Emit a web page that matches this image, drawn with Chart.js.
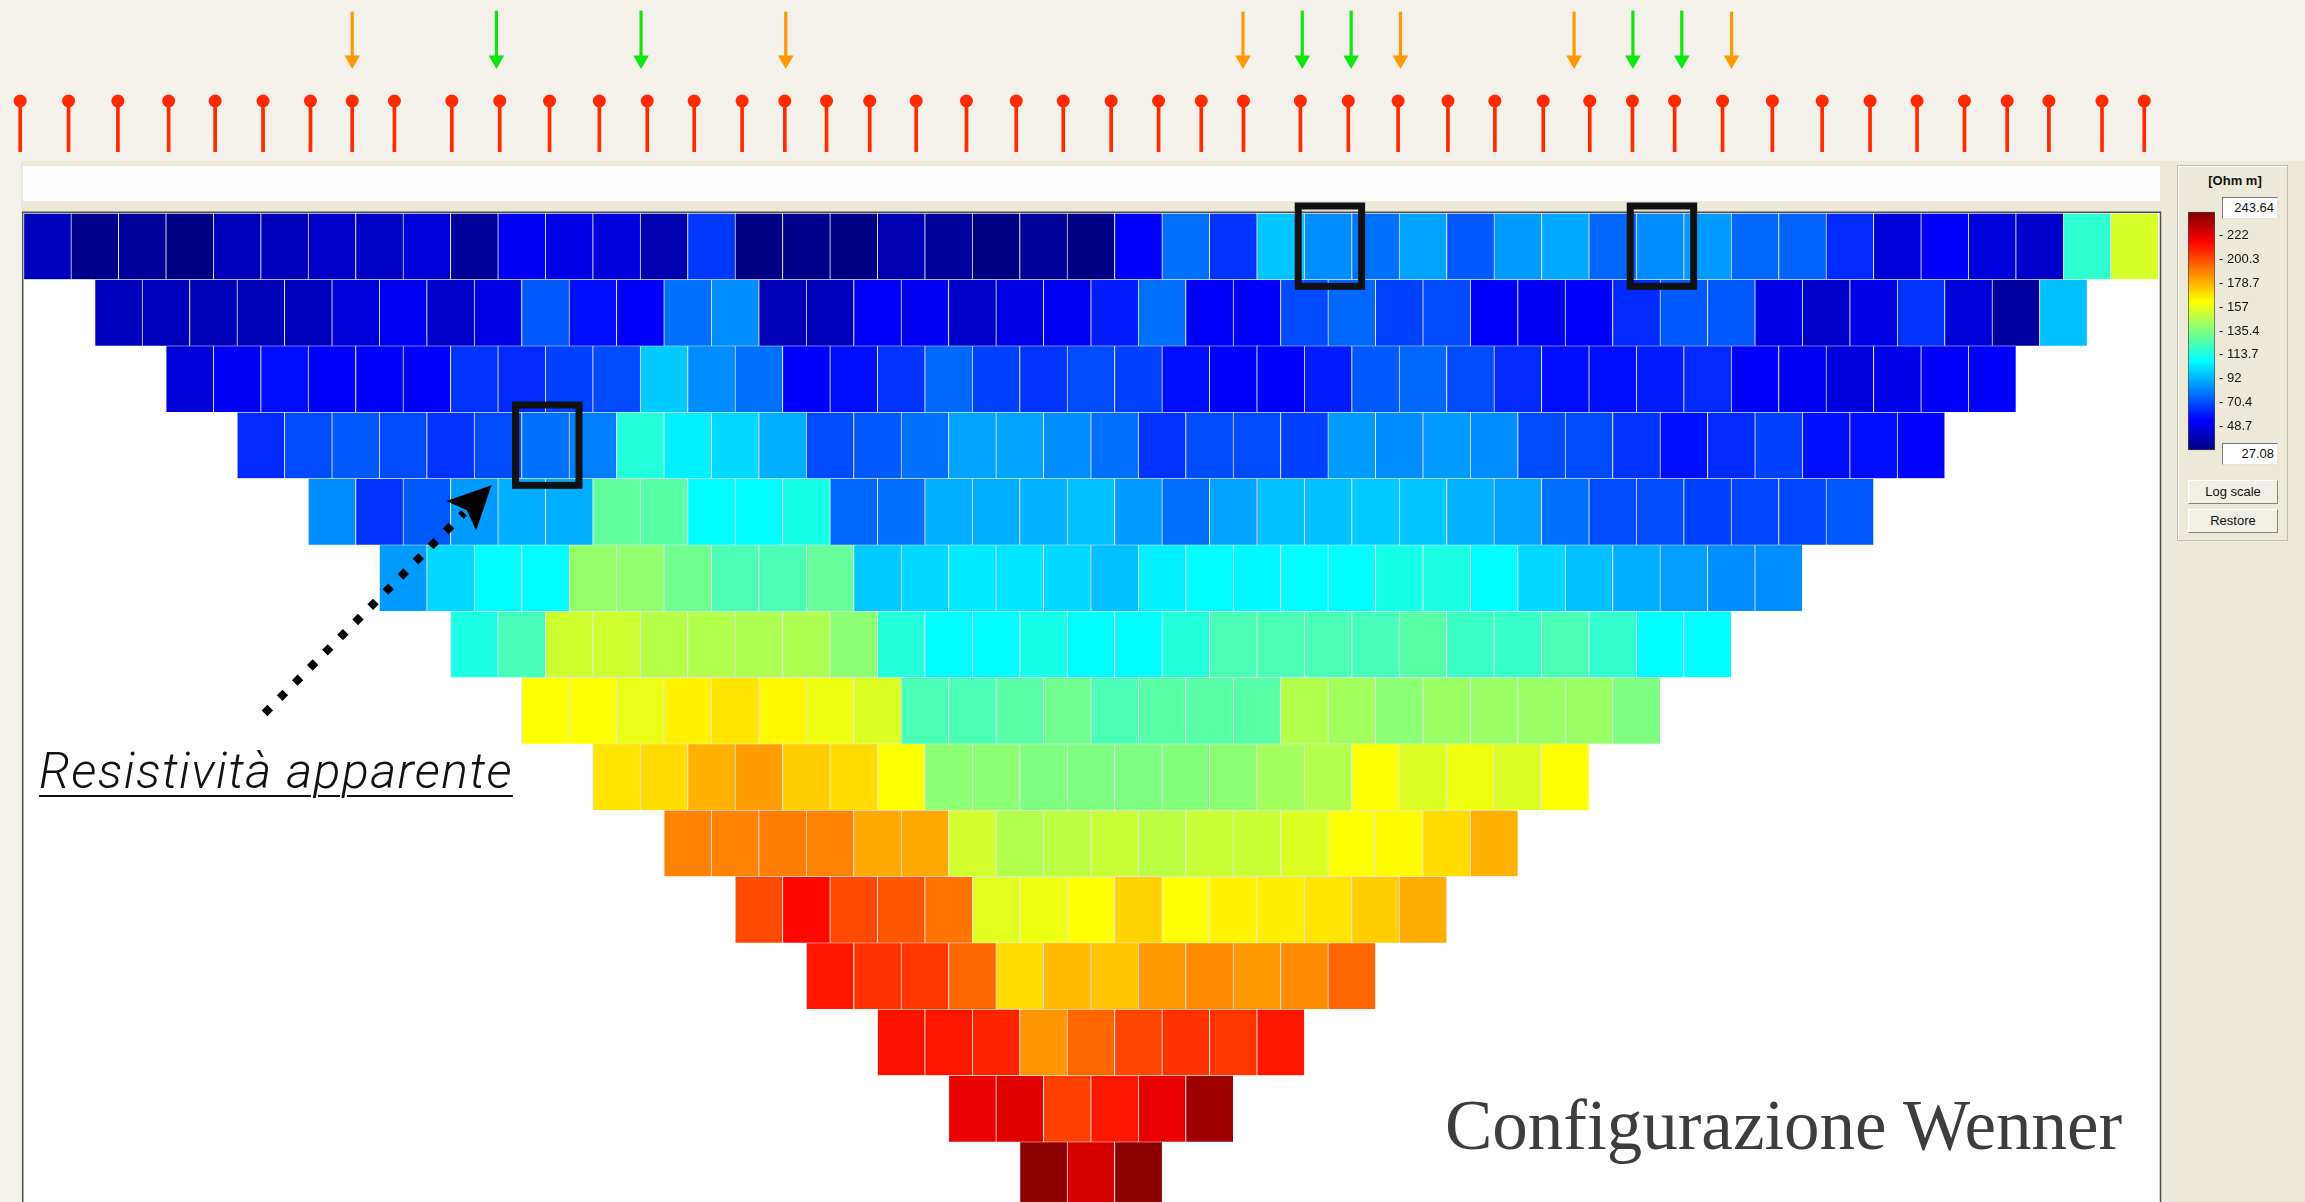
<!DOCTYPE html>
<html lang="it">
<head>
<meta charset="utf-8">
<title>Configurazione Wenner – resistività apparente</title>
<script src="https://cdn.jsdelivr.net/npm/chart.js@4.4.1/dist/chart.umd.min.js"></script>
<style>
  html, body { margin: 0; padding: 0; }
  body {
    width: 2305px; height: 1202px; overflow: hidden; position: relative;
    background: #f4f1ea;
    font-family: 'Liberation Sans', Arial, sans-serif;
  }
  .abs { position: absolute; }
  #window { left: 21px; top: 161px; width: 2284px; height: 1041px; background: #ece9d8; }
  #strip { left: 23px; top: 166px; width: 2137px; height: 35px; background: #fefefe; }
  #electrodes { left: 0; top: 0; }
  #section { left: 0; top: 200px; }
  #panel {
    left: 2177px; top: 165px; width: 109px; height: 374px;
    background: #ece9d8; border: 1px solid #c4c0b0; box-shadow: inset 1px 1px 0 #fff;
  }
  #colorbar { left: 2182px; top: 200px; }
  #unit {
    left: 2180px; top: 174px; width: 110px; text-align: center;
    font-weight: bold; font-size: 13px; line-height: 14px; color: #111;
  }
  .vbox {
    left: 2222px; width: 51px; height: 20px; background: #fff;
    border-top: 1px solid #7a7a7a; border-left: 1px solid #7a7a7a;
    border-right: 1px solid #e6e4da; border-bottom: 1px solid #e6e4da;
    text-align: right; font-size: 13px; line-height: 20px; padding-right: 3px; color: #111;
  }
  .btn {
    left: 2188px; width: 90px; height: 24px; box-sizing: border-box;
    border: 1px solid; border-color: #fff #8a8778 #8a8778 #fff;
    background: #f1efe6; text-align: center; font-size: 13px; line-height: 22px; color: #111;
  }
  #caption {
    left: 39px; top: 746px; white-space: nowrap;
    font: italic 300 50px Roboto, 'Liberation Sans', Arial, sans-serif; line-height: 50px;
    letter-spacing: 1.4px;
    color: #111; text-decoration: underline; text-decoration-thickness: 2px; text-underline-offset: 7px;
  }
  #title {
    left: 1445px; top: 1090px; white-space: nowrap;
    font: 71px 'Liberation Serif', 'DejaVu Serif', serif; line-height: 71px; color: #3d3d3d;
  }
</style>
</head>
<body>
<div id="window" class="abs"></div>
<div id="strip" class="abs"></div>
<canvas id="electrodes" class="abs" width="2170" height="152"></canvas>
<canvas id="section" class="abs" width="2170" height="1008"></canvas>
<div id="panel" class="abs"></div>
<div id="unit" class="abs">[Ohm m]</div>
<canvas id="colorbar" class="abs" width="100" height="262"></canvas>
<div id="vmax" class="abs vbox" style="top:197px"></div>
<div id="vmin" class="abs vbox" style="top:443px"></div>
<div class="abs btn" style="top:480px">Log scale</div>
<div class="abs btn" style="top:509px">Restore</div>
<div id="caption" class="abs">Resistività apparente</div>
<div id="title" class="abs">Configurazione Wenner</div>

<script>
// Colour scale limits of the apparent resistivity (Ohm m)
const scaleMin = 27.08;
const scaleMax = 243.64;
const legendTicks = ['222', '200.3', '178.7', '157', '135.4', '113.7', '92', '70.4', '48.7'];

// Acquisition levels (n), from shallow to deep
const levelLabels = ['1', '2', '3', '4', '5', '6', '7', '8', '9', '10', '11', '12', '13', '14', '15'];

// Apparent resistivity per level, left to right (Ohm m)
const livello1 = [40, 30, 33, 28, 40, 40, 43, 42, 46, 33, 52, 49, 47, 38, 66, 28, 30, 28, 38, 33, 28, 33, 28, 54, 78, 65, 96, 84, 78, 89, 73, 87, 90, 76, 84, 87, 76, 75, 63, 46, 54, 47, 43, 118, 154];
const livello2 = [40, 40, 39, 39, 40, 46, 52, 43, 49, 73, 57, 53, 78, 84, 39, 40, 54, 52, 43, 49, 52, 60, 78, 53, 54, 70, 76, 68, 70, 54, 52, 54, 63, 73, 73, 49, 43, 49, 65, 46, 34, 95];
const livello3 = [46, 52, 57, 54, 54, 54, 65, 63, 68, 70, 97, 84, 78, 54, 57, 65, 76, 68, 65, 70, 68, 57, 54, 54, 60, 73, 76, 70, 63, 57, 57, 60, 63, 54, 52, 47, 50, 53, 54];
const livello4 = [63, 70, 73, 70, 65, 70, 78, 81, 116, 105, 100, 91, 70, 73, 78, 89, 89, 84, 78, 65, 70, 70, 68, 87, 84, 87, 84, 70, 70, 65, 57, 63, 68, 57, 57, 55];
const livello5 = [84, 65, 73, 87, 91, 91, 129, 127, 108, 108, 113, 76, 78, 91, 91, 92, 95, 87, 78, 89, 95, 95, 97, 96, 92, 89, 78, 70, 70, 68, 69, 69, 73];
const livello6 = [87, 100, 108, 108, 140, 139, 132, 124, 124, 130, 97, 100, 104, 103, 100, 95, 105, 108, 107, 108, 108, 113, 114, 108, 100, 95, 91, 88, 84, 84];
const livello7 = [114, 123, 152, 152, 147, 146, 145, 145, 138, 116, 108, 108, 113, 108, 108, 116, 124, 124, 124, 123, 127, 121, 120, 124, 119, 108, 108];
const livello8 = [162, 162, 158, 165, 168, 164, 159, 155, 124, 124, 127, 132, 124, 127, 127, 127, 146, 143, 138, 141, 141, 141, 141, 135];
const livello9 = [168, 170, 179, 183, 173, 170, 162, 138, 138, 135, 135, 135, 136, 138, 143, 146, 162, 155, 159, 155, 162];
const livello10 = [189, 189, 190, 189, 181, 181, 153, 146, 148, 151, 148, 151, 151, 155, 162, 163, 170, 179];
const livello11 = [201, 215, 201, 198, 192, 156, 159, 162, 172, 162, 165, 166, 168, 173, 180];
const livello12 = [212, 206, 205, 195, 170, 177, 175, 184, 187, 184, 187, 195];
const livello13 = [213, 212, 209, 185, 195, 202, 206, 205, 212];
const livello14 = [221, 223, 203, 212, 221, 237];
const livello15 = [241, 225, 241];

// Electrode positions along the line (m)
const electrodePositions = [-0.07, 0.95, 1.99, 3.06, 4.04, 5.05, 6.05, 6.93, 7.82, 9.03, 10.04, 11.09, 12.14, 13.15, 14.14, 15.15, 16.05, 16.93, 17.84, 18.82, 19.88, 20.93, 21.92, 22.93, 23.93, 24.83, 25.72, 26.92, 27.93, 28.98, 30.03, 31.02, 32.04, 33.02, 33.92, 34.81, 35.82, 36.87, 37.92, 38.93, 39.92, 40.92, 41.82, 42.70, 43.82, 44.71];
// Current (A, B) and potential (M, N) electrodes of three example quadrupoles
const currentElectrodes = [6.93, 16.07, 25.71, 29.03, 32.69, 36.01];
const potentialElectrodes = [9.97, 13.02, 26.96, 27.99, 33.93, 34.96];

// Measurements marked on the section: [level, position in the level]
const markedCells = [[1, 28], [1, 35], [4, 7]];

const levels = [livello1, livello2, livello3, livello4, livello5, livello6, livello7, livello8,
  livello9, livello10, livello11, livello12, livello13, livello14, livello15];

// MATLAB-style "jet" colormap
function jetRGB(t) {
  const c = x => Math.max(0, Math.min(1, x));
  return [c(1.5 - Math.abs(4 * t - 3)), c(1.5 - Math.abs(4 * t - 2)), c(1.5 - Math.abs(4 * t - 1))];
}
function rgbString(rgb) {
  return 'rgb(' + rgb.map(x => Math.round(x * 255)).join(',') + ')';
}
function jetColor(v) {
  const t = Math.max(0, Math.min(1, (v - scaleMin) / (scaleMax - scaleMin)));
  return rgbString(jetRGB(t));
}

document.getElementById('vmax').textContent = scaleMax.toFixed(2);
document.getElementById('vmin').textContent = scaleMin.toFixed(2);

Chart.defaults.font.family = "'Liberation Sans', Arial, sans-serif";

const xAxis = { type: 'linear', min: 0, max: 45, offset: false, display: false };
const sidePadding = { left: 23.5, right: 12 };
const baseOptions = {
  responsive: false, animation: false, devicePixelRatio: 1, events: [],
  plugins: { legend: { display: false }, tooltip: { enabled: false } }
};

// ---- electrodes on the ground surface, with the injected/measured quadrupoles ----
const RED = '#ff2a00', ORANGE = '#ff9800', GREEN = '#0de60d';
new Chart(document.getElementById('electrodes'), {
  type: 'bar',
  data: {
    datasets: [
      { type: 'scatter', label: 'Testa elettrodo', data: electrodePositions.map(p => ({ x: p, y: 51 })),
        pointStyle: 'circle', pointRadius: 6.5, pointBackgroundColor: RED, pointBorderWidth: 0, clip: false, order: 0 },
      { type: 'bar', label: 'Elettrodi', data: electrodePositions.map(p => ({ x: p, y: [0, 51] })),
        backgroundColor: RED, barThickness: 3, grouped: false, clip: false, order: 1 },
      { type: 'scatter', label: 'A, B', data: currentElectrodes.map(p => ({ x: p, y: 92 })),
        pointStyle: 'triangle', pointRotation: 180, pointRadius: 9, pointBackgroundColor: ORANGE, pointBorderWidth: 0, clip: false, order: 0 },
      { type: 'bar', label: 'A, B stelo', data: currentElectrodes.map(p => ({ x: p, y: [96, 140] })),
        backgroundColor: ORANGE, barThickness: 2.5, grouped: false, clip: false, order: 1 },
      { type: 'scatter', label: 'M, N', data: potentialElectrodes.map(p => ({ x: p, y: 92 })),
        pointStyle: 'triangle', pointRotation: 180, pointRadius: 9, pointBackgroundColor: GREEN, pointBorderWidth: 0, clip: false, order: 0 },
      { type: 'bar', label: 'M, N stelo', data: potentialElectrodes.map(p => ({ x: p, y: [96, 141] })),
        backgroundColor: GREEN, barThickness: 2.5, grouped: false, clip: false, order: 1 }
    ]
  },
  options: Object.assign({}, baseOptions, {
    layout: { autoPadding: false, padding: { left: sidePadding.left, right: sidePadding.right, top: 0, bottom: 0 } },
    scales: { x: xAxis, y: { type: 'linear', min: 0, max: 152, display: false } }
  })
});

// ---- apparent resistivity pseudosection ----
const sectionDatasets = levels.map((vals, r) => ({
  label: 'Livello ' + levelLabels[r],
  data: vals.map((v, k) => ({ x: [1.5 * r + k, 1.5 * r + k + 1], y: levelLabels[r], v: v })),
  backgroundColor: ctx => jetColor(ctx.raw ? ctx.raw.v : scaleMin),
  borderColor: 'rgb(226,226,236)',
  borderWidth: { left: 1, top: 1, right: 0, bottom: 0 },
  borderSkipped: false,
  grouped: false,
  categoryPercentage: 1,
  barPercentage: 1
}));

const sectionDecor = {
  id: 'sectionDecor',
  beforeDraw(chart) {
    const { ctx, chartArea: a } = chart;
    ctx.save();
    ctx.fillStyle = '#ffffff';
    ctx.fillRect(a.left - 0.5, a.top, a.right - a.left + 2.5, chart.height - a.top);
    ctx.strokeStyle = '#4f4f4f';
    ctx.lineWidth = 1.5;
    ctx.beginPath();
    ctx.moveTo(a.left - 0.75, chart.height);
    ctx.lineTo(a.left - 0.75, a.top - 0.75);
    ctx.lineTo(a.right + 2.5, a.top - 0.75);
    ctx.lineTo(a.right + 2.5, chart.height);
    ctx.stroke();
    ctx.restore();
  },
  afterDatasetsDraw(chart) {
    const { ctx } = chart;
    const cellRect = (level, idx) => {
      const el = chart.getDatasetMeta(level - 1).data[idx - 1];
      const left = Math.min(el.base, el.x), right = Math.max(el.base, el.x);
      return { left, right, top: el.y - el.height / 2, bottom: el.y + el.height / 2 };
    };
    ctx.save();
    // hand-marked measurements
    ctx.strokeStyle = '#111';
    ctx.lineWidth = 7;
    ctx.lineJoin = 'miter';
    markedCells.forEach(([lv, i]) => {
      const c = cellRect(lv, i);
      ctx.strokeRect(c.left - 6, c.top - 7, c.right - c.left + 16, c.bottom - c.top + 14);
    });
    // dotted pointer towards the deeper marked measurement
    const target = cellRect(markedCells[2][0], markedCells[2][1]);
    const tip = { x: target.left - 30, y: target.bottom + 7 };
    const start = { x: tip.x - 227, y: tip.y + 228 };
    const dx = tip.x - start.x, dy = tip.y - start.y, len = Math.hypot(dx, dy);
    const ux = dx / len, uy = dy / len;
    const headLen = 43, headHalf = 21;
    const base = { x: tip.x - ux * headLen, y: tip.y - uy * headLen };
    ctx.strokeStyle = '#000';
    ctx.lineWidth = 8;
    ctx.lineCap = 'butt';
    ctx.setLineDash([8, 13.4]);
    ctx.beginPath();
    ctx.moveTo(start.x, start.y);
    ctx.lineTo(base.x + ux * 4, base.y + uy * 4);
    ctx.stroke();
    ctx.setLineDash([]);
    ctx.fillStyle = '#000';
    ctx.beginPath();
    ctx.moveTo(tip.x, tip.y);
    ctx.lineTo(base.x - uy * headHalf, base.y + ux * headHalf);
    ctx.lineTo(base.x + ux * 8, base.y + uy * 8);
    ctx.lineTo(base.x + uy * headHalf, base.y - ux * headHalf);
    ctx.closePath();
    ctx.fill();
    ctx.restore();
  }
};

new Chart(document.getElementById('section'), {
  type: 'bar',
  data: { labels: levelLabels, datasets: sectionDatasets },
  options: Object.assign({}, baseOptions, {
    indexAxis: 'y',
    layout: { autoPadding: false, padding: { left: sidePadding.left, right: sidePadding.right, top: 13, bottom: 0 } },
    scales: {
      x: xAxis,
      y: { type: 'category', labels: levelLabels, offset: true, display: false }
    }
  }),
  plugins: [sectionDecor]
});

// ---- colour legend ----
const legendValues = legendTicks.map(Number);
new Chart(document.getElementById('colorbar'), {
  type: 'bar',
  data: {
    labels: [''],
    datasets: [{
      data: [[scaleMin, scaleMax]],
      backgroundColor: ctx => {
        const area = ctx.chart.chartArea;
        if (!area) return 'transparent';
        const g = ctx.chart.ctx.createLinearGradient(0, area.bottom, 0, area.top);
        for (let i = 0; i <= 32; i++) g.addColorStop(i / 32, rgbString(jetRGB(i / 32)));
        return g;
      },
      borderColor: '#4a4a4a',
      borderWidth: 1,
      borderSkipped: false,
      categoryPercentage: 1,
      barPercentage: 1
    }]
  },
  options: Object.assign({}, baseOptions, {
    layout: { autoPadding: false, padding: { left: 6, right: 0, top: 8, bottom: 9 } },
    scales: {
      x: { display: false },
      y: {
        position: 'right', min: scaleMin, max: scaleMax,
        grid: { display: false, drawTicks: false }, border: { display: false },
        afterBuildTicks: s => { s.ticks = legendValues.map(v => ({ value: v })); },
        afterFit: s => { s.width = 67; },
        ticks: {
          autoSkip: false, padding: 4, color: '#111',
          font: { size: 13 },
          callback: (v, i) => '- ' + legendTicks[i]
        }
      }
    }
  })
});
</script>
</body>
</html>
